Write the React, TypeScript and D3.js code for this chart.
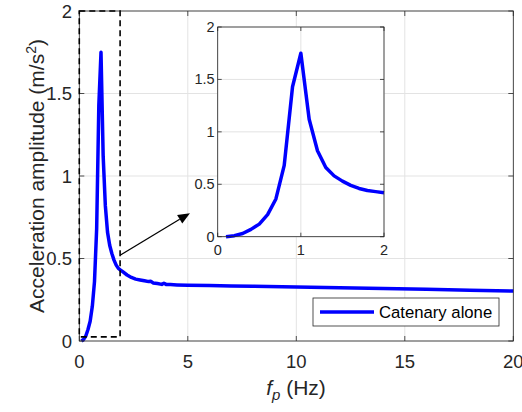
import React from "react";
import * as d3 from "d3";

const freq = [0.1,0.2,0.3,0.4,0.5,0.6,0.7,0.8,0.9,1.0,1.1,1.2,1.3,1.4,1.5,1.6,1.7,1.8,1.9,2.0,
  2.2,2.4,2.6,2.8,3.0,3.2,3.3,3.4,3.6,3.8,3.9,4.0,4.2,4.5,5,6,7,8,10,12,14,16,18,20];
const accel = [0.0,0.01,0.03,0.07,0.12,0.21,0.36,0.68,1.43,1.75,1.12,0.82,0.66,0.58,0.53,0.49,0.46,0.44,0.43,0.42,
  0.40,0.385,0.375,0.37,0.365,0.36,0.362,0.352,0.348,0.343,0.35,0.343,0.342,0.34,0.338,0.336,0.334,0.332,0.328,0.322,0.318,0.313,0.308,0.303];
const xTicks = [0,5,10,15,20];
const yTicks = [0,0.5,1,1.5,2];
const yTickLabels = ["0","0.5","1","1.5","2"];
const insetXTicks = [0,1,2];
const insetYTicks = [0,0.5,1,1.5,2];
const legendLabel = "Catenary alone";
const zoomBox = { x0: 0, x1: 1.88, y0: 0.025, y1: 2 };
const arrowFrom = [1.88, 0.52];
const arrowTo = [5.1, 0.775];

const FONT = "'Liberation Sans', Arial, Helvetica, sans-serif";
const AX = "#262626";
const GRID = "#e3e3e3";
const BLUE = "#0000ff";

export default function App() {
  const x = d3.scaleLinear().domain([0, 20]).range([79.3, 513.3]);
  const y = d3.scaleLinear().domain([0, 2]).range([341, 11]);
  const ix = d3.scaleLinear().domain([0, 2]).range([217.7, 384]);
  const iy = d3.scaleLinear().domain([0, 2]).range([236.7, 27]);

  const pts = freq.map((f, i) => [f, accel[i]] as [number, number]);
  const line = d3.line<[number, number]>().x(d => x(d[0])).y(d => y(d[1]));
  const iline = d3.line<[number, number]>().x(d => ix(d[0])).y(d => iy(d[1]));
  const insetPts = pts.filter(p => p[0] <= 2);

  const tl = 5;
  const ax0 = x(0), ax1 = x(20), ay0 = y(0), ay1 = y(2);
  const ix0 = ix(0), ix1 = ix(2), iy0 = iy(0), iy1 = iy(2);

  const a1 = [x(arrowFrom[0]), y(arrowFrom[1])];
  const a2 = [x(arrowTo[0]), y(arrowTo[1])];
  const ang = Math.atan2(a2[1] - a1[1], a2[0] - a1[0]);
  const hl = 12, hw = 5;
  const bx = a2[0] - hl * Math.cos(ang), by = a2[1] - hl * Math.sin(ang);
  const head = `M${a2[0]},${a2[1]} L${bx + hw * Math.sin(ang)},${by - hw * Math.cos(ang)} L${bx - hw * Math.sin(ang)},${by + hw * Math.cos(ang)} Z`;

  return (
    <svg width={522} height={412} style={{ position: "absolute", left: 0, top: 0, background: "#fff" }} fontFamily={FONT}>
      <rect x={0} y={0} width={522} height={412} fill="#fff" />
      {/* main grid */}
      {xTicks.map(t => <line key={"gx" + t} x1={x(t)} x2={x(t)} y1={ay0} y2={ay1} stroke={GRID} strokeWidth={1} />)}
      {yTicks.map(t => <line key={"gy" + t} x1={ax0} x2={ax1} y1={y(t)} y2={y(t)} stroke={GRID} strokeWidth={1} />)}
      {/* main line */}
      <path d={line(pts) || ""} fill="none" stroke={BLUE} strokeWidth={3.5} strokeLinejoin="round" />
      {/* box and ticks */}
      <rect x={ax0} y={ay1} width={ax1 - ax0} height={ay0 - ay1} fill="none" stroke={AX} strokeWidth={0.8} />
      {xTicks.map(t => (
        <g key={"tx" + t}>
          <line x1={x(t)} x2={x(t)} y1={ay0} y2={ay0 - tl} stroke={AX} strokeWidth={0.8} />
          <line x1={x(t)} x2={x(t)} y1={ay1} y2={ay1 + tl} stroke={AX} strokeWidth={0.8} />
          <text x={x(t)} y={368} textAnchor="middle" fontSize={18.5} fill={AX}>{t}</text>
        </g>
      ))}
      {yTicks.map((t, i) => (
        <g key={"ty" + t}>
          <line x1={ax0} x2={ax0 + tl} y1={y(t)} y2={y(t)} stroke={AX} strokeWidth={0.8} />
          <line x1={ax1} x2={ax1 - tl} y1={y(t)} y2={y(t)} stroke={AX} strokeWidth={0.8} />
          <text x={72} y={y(t) + 6.5} textAnchor="end" fontSize={18.5} fill={AX}>{yTickLabels[i]}</text>
        </g>
      ))}
      {/* dashed zoom box */}
      <rect x={x(zoomBox.x0)} y={y(zoomBox.y1)} width={x(zoomBox.x1) - x(zoomBox.x0)} height={y(zoomBox.y0) - y(zoomBox.y1)}
        fill="none" stroke="#000" strokeWidth={1.6} strokeDasharray="6,4" />
      {/* arrow */}
      <line x1={a1[0]} y1={a1[1]} x2={bx} y2={by} stroke="#000" strokeWidth={1.3} />
      <path d={head} fill="#000" />
      {/* axis labels */}
      <text x={296} y={395} textAnchor="middle" fontSize={21} fill={AX}>
        <tspan fontStyle="italic">f</tspan>
        <tspan fontStyle="italic" fontSize={15} dy={5}>p</tspan>
        <tspan dy={-5}> (Hz)</tspan>
      </text>
      <text transform={`translate(44,176) rotate(-90)`} textAnchor="middle" fontSize={21} fill={AX}>
        Acceleration amplitude (m/s<tspan fontSize={14} dy={-8}>2</tspan><tspan dy={8}>)</tspan>
      </text>
      {/* legend */}
      <rect x={313} y={298} width={186} height={28} fill="#fff" stroke={AX} strokeWidth={0.8} />
      <line x1={320} x2={374} y1={312} y2={312} stroke={BLUE} strokeWidth={3.5} />
      <text x={379} y={318} fontSize={16.7} fill="#000">{legendLabel}</text>
      {/* inset */}
      <rect x={ix0} y={iy1} width={ix1 - ix0} height={iy0 - iy1} fill="#fff" />
      {insetXTicks.map(t => <line key={"igx" + t} x1={ix(t)} x2={ix(t)} y1={iy0} y2={iy1} stroke={GRID} strokeWidth={1} />)}
      {insetYTicks.map(t => <line key={"igy" + t} x1={ix0} x2={ix1} y1={iy(t)} y2={iy(t)} stroke={GRID} strokeWidth={1} />)}
      <path d={iline(insetPts) || ""} fill="none" stroke={BLUE} strokeWidth={3.5} strokeLinejoin="round" />
      <rect x={ix0} y={iy1} width={ix1 - ix0} height={iy0 - iy1} fill="none" stroke={AX} strokeWidth={0.8} />
      {insetXTicks.map(t => (
        <g key={"itx" + t}>
          <line x1={ix(t)} x2={ix(t)} y1={iy0} y2={iy0 - 4} stroke={AX} strokeWidth={0.8} />
          <line x1={ix(t)} x2={ix(t)} y1={iy1} y2={iy1 + 4} stroke={AX} strokeWidth={0.8} />
          <text x={ix(t)} y={255} textAnchor="middle" fontSize={14.5} fill={AX}>{t}</text>
        </g>
      ))}
      {insetYTicks.map(t => (
        <g key={"ity" + t}>
          <line x1={ix0} x2={ix0 + 4} y1={iy(t)} y2={iy(t)} stroke={AX} strokeWidth={0.8} />
          <line x1={ix1} x2={ix1 - 4} y1={iy(t)} y2={iy(t)} stroke={AX} strokeWidth={0.8} />
          <text x={ix0 - 3} y={iy(t) + 5} textAnchor="end" fontSize={14.5} fill={AX}>{t}</text>
        </g>
      ))}
    </svg>
  );
}
